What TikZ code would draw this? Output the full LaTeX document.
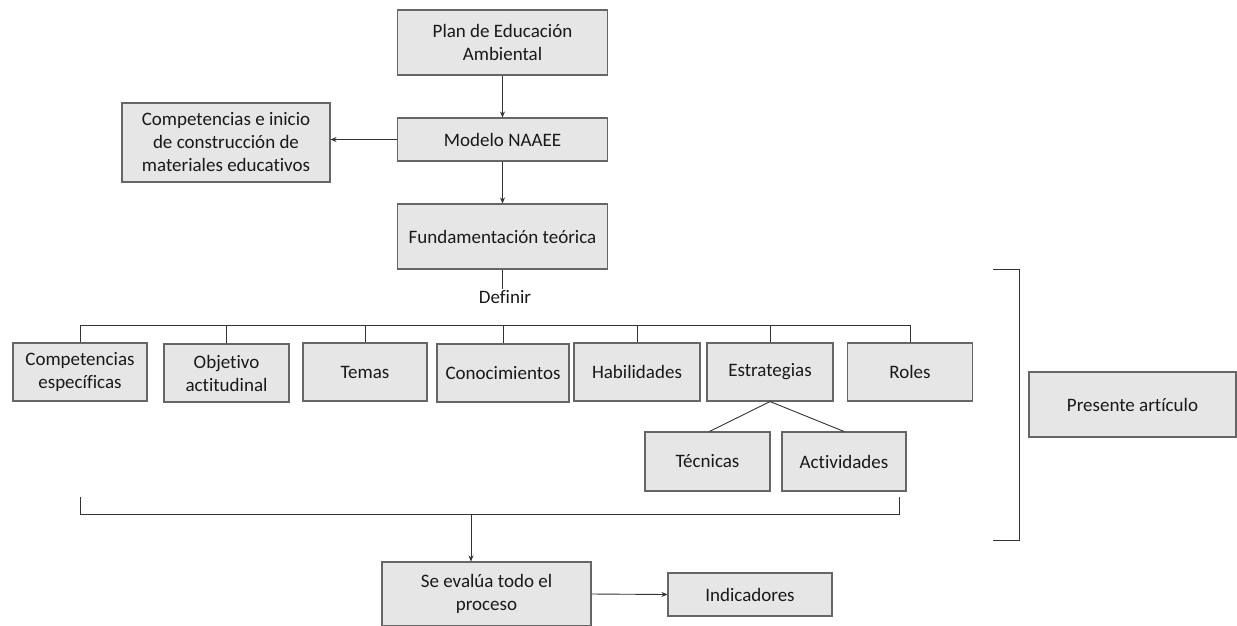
\documentclass[tikz,border=0pt]{standalone}
\usepackage{fontspec}
\setmainfont{Carlito}[Ligatures={NoCommon}]
\usetikzlibrary{arrows.meta}
\definecolor{boxfill}{HTML}{E7E6E6}
\definecolor{boxdraw}{HTML}{666666}
\definecolor{linec}{HTML}{333333}
\begin{document}
\begin{tikzpicture}[x=1pt,y=-1pt,
  font=\fontsize{19}{23}\selectfont,
  box/.style={draw=boxdraw,fill=boxfill,line width=1.1pt,align=center,inner sep=0pt,text=black!90},
  conn/.style={draw=linec,line width=0.9pt},
  arr/.style={conn,-{Stealth[length=6pt,width=5pt]}}]
\useasboundingbox (0,0) rectangle (1237,625);
% top chain
\node[box,minimum width=210,minimum height=65] (plan) at (502.5,42.5) {Plan de Educación\\Ambiental};
\node[box,minimum width=210,minimum height=43] (modelo) at (502.5,139.5) {Modelo NAAEE};
\node[box,minimum width=208,minimum height=79] (comp) at (226,142.5) {Competencias e inicio\\de construcción de\\materiales educativos};
\node[box,minimum width=210,minimum height=65] (fund) at (502.5,236.5) {Fundamentación teórica};
\node[inner sep=1pt,text=black!90] (def) at (505,297) {Definir};
\draw[arr] (plan) -- (modelo);
\draw[arr] (modelo.west) -- (modelo.west -| comp.east);
\draw[arr] (modelo) -- (fund);
\draw[conn] (fund.south) -- (fund.south |- def.north);
% row
\node[box,minimum width=134,minimum height=58] (ce) at (80,372) {Competencias\\específicas};
\node[box,minimum width=125,minimum height=58] (obj) at (226.5,373) {Objetivo\\actitudinal};
\node[box,minimum width=124,minimum height=58] (temas) at (365,372) {Temas};
\node[box,minimum width=132,minimum height=58] (conoc) at (503,373) {Conocimientos};
\node[box,minimum width=126,minimum height=58] (hab) at (637,372) {Habilidades};
\node[box,minimum width=126,minimum height=58] (estr) at (770,372) {Estrategias};
\node[box,minimum width=125,minimum height=58] (roles) at (910,372) {Roles};
\coordinate (busL) at (80,325);
\coordinate (busR) at (910,325);
\draw[conn] (busL) -- (busR);
\draw[conn] (ce.north) -- (busL);
\draw[conn] (obj.north) -- (obj.north |- busL);
\draw[conn] (temas.north) -- (temas.north |- busL);
\draw[conn] (conoc.north) -- (conoc.north |- busL);
\draw[conn] (hab.north) -- (hab.north |- busL);
\draw[conn] (estr.north) -- (estr.north |- busL);
\draw[conn] (roles.north) -- (busR);
% sub
\node[box,minimum width=125,minimum height=59] (tec) at (707.5,461.5) {Técnicas};
\node[box,minimum width=124,minimum height=59] (act) at (844,461.5) {Actividades};
\draw[conn] (estr.south) -- ([xshift=2pt]tec.north);
\draw[conn] (estr.south) -- (act.north);
% bottom bracket
\coordinate (bl) at (80,497);
\coordinate (bl2) at (80,514);
\coordinate (br2) at (899,514);
\coordinate (br) at (899,497);
\coordinate (bm) at (471,514);
\draw[conn] (bl) -- (bl2) -- (br2) -- (br);
\node[box,minimum width=209,minimum height=64] (se) at (486.5,594) {Se evalúa todo el\\proceso};
\draw[arr] (bm) -- (bm |- se.north);
\node[box,minimum width=164,minimum height=43] (ind) at (750,594.5) {Indicadores};
\draw[arr] (se.east) -- (ind.west);
% right bracket
\coordinate (rt1) at (993,269);
\coordinate (rt2) at (1019,269);
\coordinate (rb2) at (1019,540);
\coordinate (rb1) at (993,540);
\draw[conn] (rt1) -- (rt2) -- (rb2) -- (rb1);
\node[box,minimum width=207,minimum height=65] (pres) at (1132.5,404.5) {Presente artículo};
\end{tikzpicture}
\end{document}
